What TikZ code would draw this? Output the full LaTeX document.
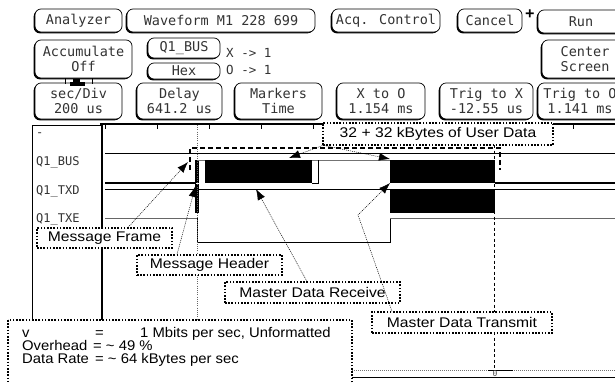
\documentclass[tikz,border=0pt]{standalone}
\usepackage{fontspec}
\usetikzlibrary{shadows,arrows.meta,calc}
\newfontfamily\hpfont{DejaVu Sans Mono}
\newfontfamily\arialx[FakeStretch=1.12]{Liberation Sans}
\newfontfamily\arialy[FakeStretch=1.06]{Liberation Sans}
\begin{document}
\begin{tikzpicture}[x=1pt,y=-1pt,
  btn/.style={draw, line width=0.7pt, rounded corners=6pt, fill=white,
    general shadow={shadow xshift=-1.3pt, shadow yshift=-1.3pt, fill=black},
    font=\hpfont\fontsize{13.5}{15}\selectfont, align=center, inner sep=0pt, text=black!80},
  mk/.style={font=\hpfont\fontsize{12.5}{14}\selectfont, inner sep=0pt, anchor=west, text=black!80},
  lbl/.style={font=\hpfont\fontsize{12}{14}\selectfont, inner sep=0pt, anchor=west, text=black!80},
  call/.style={draw, line width=1.1pt, dash pattern=on 1.6pt off 1.6pt, fill=white,
    font=\arialx\fontsize{14}{16}\selectfont, inner sep=0pt},
  infotext/.style={font=\arialy\fontsize{14}{16}\selectfont, inner sep=0pt, anchor=base west},
  callarrow/.style={line width=0.5pt, dash pattern=on 1pt off 1pt, -{Latex[length=11pt,width=8pt]}},
  sigline/.style={line width=0.8pt},
  busfill/.style={fill=black},
  frameline/.style={line width=1.6pt, dash pattern=on 5pt off 3pt},
  cursx/.style={line width=0.7pt, black!60, dash pattern=on 1pt off 1.2pt},
  curso/.style={line width=0.8pt, dash pattern=on 3pt off 2.5pt}]
\useasboundingbox (0,0) rectangle (615,383);
\clip (0,0) rectangle (615,383);
\fill[white] (0,0) rectangle (615,383);

% ---------- buttons ----------
\node[btn, minimum width=87pt, minimum height=23pt] (an) at (78.5,20.5) {Analyzer};
\node[btn, minimum width=188pt, minimum height=23pt] (wf) at (221,20.5) {Waveform M1 228 699};
\node[btn, minimum width=108pt, minimum height=23pt] (acq) at (386,20.5) {Acq. Control};
\node[btn, minimum width=64pt, minimum height=23pt] (can) at (490,20.5) {Cancel};
\node[btn, minimum width=86pt, minimum height=23pt] (run) at (581,21.5) {Run};
\node[font=\hpfont\bfseries\fontsize{15}{15}\selectfont, inner sep=0pt] (plus) at (530,14) {+};
\node[btn, minimum width=97pt, minimum height=38pt] (acc) at (83.5,59) {Accumulate\\Off};
\node[btn, minimum width=72pt, minimum height=20pt] (qbus) at (184,48) {Q1\_BUS};
\node[btn, minimum width=72pt, minimum height=16pt] (hex) at (184,71) {Hex};
\node[mk] (xmap) at (226,53) {X -> 1};
\node[mk] (omap) at (226,70) {O -> 1};
\node[btn, minimum width=86pt, minimum height=38pt] (cen) at (585,59) {Center\\Screen};
\node[btn, minimum width=87pt, minimum height=36pt] (sec) at (78.5,101) {sec/Div\\200 us};
\node[btn, minimum width=85pt, minimum height=36pt] (del) at (179.5,101) {Delay\\641.2 us};
\node[btn, minimum width=87pt, minimum height=36pt] (mrk) at (278.5,101) {Markers\\Time};
\node[btn, minimum width=88pt, minimum height=36pt] (xo) at (381,101) {X to O\\1.154 ms};
\node[btn, minimum width=93pt, minimum height=36pt] (tx) at (486.5,101) {Trig to X\\-12.55 us};
\node[btn, minimum width=84pt, minimum height=36pt] (to) at (580,101) {Trig to O\\1.141 ms};
% connector between Accumulate and sec/Div
\draw[line width=0.7pt] (65,78) -- (65,84) (92,78) -- (92,84);
\fill (73,79) rectangle (80,82);
\fill (70,82) rectangle (85,86);

% ---------- waveform frame ----------
\draw[line width=1.2pt] (100,124) -- (615,124);
\foreach \x in {105,157,209,261,313,365,417,469,521,573}
  \draw[line width=0.7pt] (\x,124) -- (\x,129);
\draw[line width=0.8pt] (102,125) -- (32,125) -- (32,400);
\draw[line width=1.4pt] (102,124) -- (102,400);
\node[lbl] (l0) at (36,135) {-};
\node[lbl] (l1) at (36,162) {Q1\_BUS};
\node[lbl] (l2) at (36,191) {Q1\_TXD};
\node[lbl] (l3) at (36,219) {Q1\_TXE};

% ---------- signals ----------
\draw[sigline] (105,153) -- (615,153);
\draw[line width=1.2pt] (105,183) -- (196,183);
\fill (195,160) rectangle (198.5,183);
\draw[line width=0.7pt, black!55] (198,160) -- (390,160);
\fill[busfill] (205,160) rectangle (312,183);
\draw[line width=0.8pt] (312,183) -- (318,183) -- (318,160);
\fill[busfill] (390,160) rectangle (495,183);
\draw[line width=1.2pt] (495,183) -- (615,183);
\draw[sigline] (105,189) -- (615,189);
\fill[busfill] (390,190) rectangle (495,213);
\fill (195,184) rectangle (198.5,213);
\draw[line width=0.8pt, black!60] (105,218) -- (197,218);
\draw[line width=0.9pt] (197,218) -- (197,242) -- (390,242) -- (390,218);
\draw[line width=0.8pt, black!60] (390,218) -- (615,218);

% ---------- cursors and frame ----------
\draw[cursx] (197,125) -- (197,320);
\draw[curso] (494,145) -- (494,368);
\draw[frameline] (190,170) -- (190,148) -- (500,148) -- (500,170);

% ---------- bottom axis ----------
\draw[line width=0.5pt, black!55, dash pattern=on 1pt off 1pt] (352,370) -- (615,370);
\draw[line width=0.8pt] (488,370) -- (513,370);
\draw[line width=0.9pt] (352,377) -- (615,377);
\node[font=\hpfont\fontsize{8}{8}\selectfont, inner sep=0pt, text=black!70] (zero) at (495,373.5) {0};

% ---------- callouts ----------
\node[call, minimum width=230pt, minimum height=22pt] (user) at (438,134) {32 + 32 kBytes of User Data};
\node[call, minimum width=135pt, minimum height=20pt] (frame) at (104.5,238) {Message Frame};
\node[call, minimum width=145pt, minimum height=20pt] (header) at (209.5,265) {Message Header};
\node[call, minimum width=175pt, minimum height=21pt] (recv) at (312.5,292.5) {Master Data Receive};
\node[call, minimum width=180pt, minimum height=21pt] (xmit) at (462,322.5) {Master Data Transmit};

\coordinate (tframe) at (188,162);
\coordinate (theader) at (195.5,186);
\coordinate (trecv) at (256,189);
\coordinate (bend) at (358,215);
\coordinate (txmit) at (390,183);
\coordinate (tuser1) at (289,158);
\coordinate (tuser2) at (390,159);
\draw[callarrow] ([xshift=23.5pt]frame.north) -- (tframe);
\draw[callarrow] ([xshift=-32.5pt]header.north) -- (theader);
\draw[callarrow] ([xshift=-5.5pt]recv.north) -- (trecv);
\draw[callarrow] ([xshift=-70pt]xmit.north) -- (bend) -- (txmit);
\draw[callarrow] (user.south west) -- (tuser1);
\draw[callarrow] ([xshift=2pt]user.south west) -- (tuser2);

% ---------- info box ----------
\draw[line width=1.1pt, dash pattern=on 1.6pt off 1.6pt, fill=white] (8,320) rectangle (352,400);
\node[infotext] (iv) at (22,337) {v};
\node[infotext] (ive) at (95,337) {=};
\node[infotext] (ivv) at (140,337) {1 Mbits per sec, Unformatted};
\node[infotext] (io) at (22,350) {Overhead};
\node[infotext] (iov) at (93,350) {= \textasciitilde{} 49 \%};
\node[infotext] (id) at (22,363) {Data Rate};
\node[infotext] (idv) at (95,363) {= \textasciitilde{} 64 kBytes per sec};
\end{tikzpicture}
\end{document}
